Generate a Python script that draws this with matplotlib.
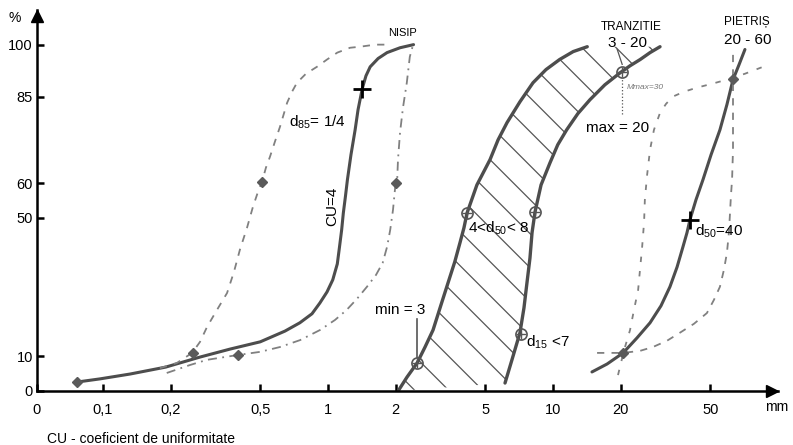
import numpy as np
import matplotlib
matplotlib.use('Agg')
import matplotlib.pyplot as plt

plt.rcParams['font.family'] = ['Liberation Sans', 'DejaVu Sans']

# axis ticks
x_ticks = [0.1, 0.2, 0.5, 1, 2, 5, 10, 20, 50]
x_labels = ['0,1', '0,2', '0,5', '1', '2', '5', '10', '20', '50']
y_ticks = [0, 10, 50, 60, 85, 100]
y_labels = ['0', '10', '50', '60', '85', '100']

# NISIP - main curve (mm, %)
nisip_x = [0.077, 0.097, 0.132, 0.19, 0.27, 0.367, 0.50, 0.644, 0.75, 0.849, 0.92, 0.99, 1.05, 1.10, 1.125,
           1.15, 1.17, 1.195, 1.22, 1.265, 1.32, 1.36, 1.42, 1.475, 1.54, 1.67, 1.83, 2.09, 2.4]
nisip_y = [2.6, 3.5, 4.9, 6.9, 9.8, 12.1, 14.2, 17.3, 19.7, 22.3, 25.4, 28.6, 32.1, 36.7, 41.6,
           46.5, 51.4, 56.1, 61.0, 68.2, 75.4, 81.2, 87.3, 91.0, 93.6, 96.0, 97.7, 99.1, 100]
# NISIP - fine envelope (dashed)
nisip_fine_x = [0.179, 0.213, 0.249, 0.270, 0.29, 0.321, 0.356, 0.382, 0.406, 0.4365, 0.464, 0.4885, 0.509, 0.530,
                0.552, 0.581, 0.612, 0.658, 0.692, 0.728, 0.798, 0.893, 0.99, 1.10, 1.253, 1.39, 1.62, 1.83]
nisip_fine_y = [6.6, 8.1, 11.0, 14.2, 18.5, 23.4, 28.3, 34.4, 40.8, 47.1, 53.2, 57.5, 60.4, 64.5,
                67.6, 72.0, 76.3, 83.2, 86.4, 89.0, 91.6, 93.6, 95.7, 97.7, 99.1, 99.4, 100, 100]
# NISIP - coarse envelope (dash-dot)
nisip_coarse_x = [0.192, 0.2435, 0.29, 0.398, 0.499, 0.612, 0.752, 0.921, 1.074, 1.21, 1.345, 1.49, 1.634,
                  1.75, 1.83, 1.89, 1.945, 1.99, 2.03, 2.047, 2.09, 2.154, 2.24, 2.31, 2.39]
nisip_coarse_y = [5.2, 7.5, 9.0, 10.4, 11.3, 12.7, 14.7, 17.6, 20.5, 23.4, 26.6, 30.1, 33.5,
                  37.0, 41.6, 46.5, 52.3, 59.0, 61.0, 66.8, 74.6, 81.8, 89.0, 96.5, 100]

# TRANZITIE band boundaries
tranz_left_x = [2.05, 2.244, 2.49, 2.70, 2.93, 3.18, 3.45, 3.66, 3.86, 4.02, 4.15, 4.59, 5.25, 5.70, 6.25,
                7.13, 8.15, 9.31, 10.7, 12.3, 14.2]
tranz_left_y = [0, 4.0, 8.1, 12.7, 17.6, 24.9, 32.1, 37.3, 42.8, 47.1, 51.4, 59.5, 66.8, 72.5, 77.5,
                83.5, 89.0, 92.8, 95.7, 98.0, 99.4]
tranz_right_x = [6.12, 6.57, 7.13, 7.43, 7.66, 7.90, 8.07, 8.32, 8.85, 9.70, 10.5, 11.5, 12.9, 14.6, 17.0,
                 19.9, 22.0, 24.4, 27.0, 29.9]
tranz_right_y = [2.3, 9.0, 16.8, 24.0, 31.2, 38.4, 45.7, 51.7, 59.5, 65.9, 71.1, 75.4, 80.1, 84.1, 88.4,
                 91.9, 93.9, 95.7, 97.7, 99.4]

# PIETRIS - main curve
pietris_x = [14.9, 17.4, 20.5, 23.6, 27.0, 30.2, 33.1, 35.6, 37.8, 39.4, 40.6, 43.2, 46.4, 50.4, 55.2,
             59.3, 63.1, 67.1, 71.3]
pietris_y = [5.5, 7.8, 11.0, 15.3, 19.7, 24.6, 30.1, 35.8, 41.6, 45.7, 49.4, 55.2, 61.0, 68.2, 75.4,
             82.7, 89.9, 94.2, 98.6]
# PIETRIS - envelopes
pietris_fine_x = [19.45, 20.7, 22.0, 22.9, 23.9, 24.4, 24.9, 25.4, 25.6, 26.2, 27.0, 28.1, 29.9, 31.8,
                  34.1, 38.2, 43.7, 50.9, 59.3, 71.3, 85.8]
pietris_fine_y = [4.6, 11.8, 17.6, 23.4, 29.2, 35.5, 41.6, 48.8, 55.2, 62.4, 69.7, 75.4, 80.3, 82.9,
                  85.0, 86.4, 87.6, 88.7, 89.9, 91.6, 93.6]
pietris_coarse_x = [15.7, 20.5, 24.4, 27.8, 32.1, 36.6, 42.3, 48.3, 51.9, 55.2, 57.5, 59.3, 60.5, 61.2,
                    61.8, 62.5, 63.1, 63.1, 63.1, 63.1]
pietris_coarse_y = [11.0, 11.0, 11.6, 12.7, 14.5, 16.8, 19.4, 22.5, 26.3, 30.1, 35.0, 39.9, 45.7, 51.4,
                    56.6, 61.0, 69.7, 80.3, 89.9, 98.6]

# marked points
diamond_x = [0.077, 0.25, 0.51, 0.40, 2.0, 20.5, 63.0]
diamond_y = [2.6, 11.0, 60.4, 10.4, 60.0, 11.0, 90.0]
cross_x = [1.42, 40.6]
cross_y = [87.3, 49.4]
circle_x = [2.49, 4.15, 8.3, 7.2, 20.3]
circle_y = [8.1, 51.4, 51.7, 16.5, 92.2]

fig = plt.figure(figsize=(7.93, 4.45), dpi=100)
ax = fig.add_axes([37 / 793, 54 / 445, 741 / 793, 381 / 445])
ax.set_xscale('log')
x_min = 0.0509
ax.set_xlim(x_min, 100)
ax.set_ylim(0, 110)

solid = '#4d4d4d'
dash_c = '#808080'
line_kw = dict(solid_joinstyle='round', solid_capstyle='round')

# NISIP curves
ax.plot(nisip_x, nisip_y, color=solid, lw=2.2, **line_kw)
ax.plot(nisip_fine_x, nisip_fine_y, color=dash_c, lw=1.3, ls=(0, (4, 4)))
ax.plot(nisip_coarse_x, nisip_coarse_y, color=dash_c, lw=1.3, ls=(0, (5, 3, 1, 3)))

# TRANZITIE band with hatching
band_x = np.concatenate([tranz_left_x, tranz_right_x[::-1]])
band_y = np.concatenate([tranz_left_y, tranz_right_y[::-1]])
band = ax.fill(band_x, band_y, facecolor='none', edgecolor='none')[0]
drop = 381 / 741
for u in np.arange(-0.6, 1.0, 34 / 741):
    ln, = ax.plot([u, u + drop], [1, 0], transform=ax.transAxes, color='#555555', lw=0.9)
    ln.set_clip_path(band)
ax.plot(tranz_left_x, tranz_left_y, color=solid, lw=2.4, **line_kw)
ax.plot(tranz_right_x, tranz_right_y, color=solid, lw=2.4, **line_kw)

# PIETRIS curves
ax.plot(pietris_x, pietris_y, color=solid, lw=2.2, **line_kw)
ax.plot(pietris_fine_x, pietris_fine_y, color=dash_c, lw=1.3, ls=(0, (3, 5)))
ax.plot(pietris_coarse_x, pietris_coarse_y, color=dash_c, lw=1.3, ls=(0, (4, 4)))

# markers
ax.plot(diamond_x, diamond_y, 'D', color='#5a5a5a', ms=5.5, ls='none')
ax.plot(cross_x, cross_y, '+', color='black', ms=13, mew=2, ls='none')
ax.plot(circle_x, circle_y, 'o', mfc='none', mec='#555555', ms=8, mew=1.2, ls='none')
ax.plot(circle_x, circle_y, '+', color='#555555', ms=7, mew=1, ls='none')

# annotation pointers
ax.plot([2.49, 2.49], [20.8, 9.8], color='#555555', lw=1.2)
ax.plot([20.3, 20.3], [80.0, 90.3], color='#555555', lw=0.9, ls=':')
ax.plot([19.3, 20.3], [98.6, 94.3], color='#555555', lw=0.9)

# text labels
ax.text(2.15, 103.5, 'NISIP', fontsize=8, ha='center', va='center')
ax.text(22.2, 105.2, 'TRANZITIE', fontsize=8.5, ha='center', va='center')
ax.text(21.5, 100.6, '3 - 20', fontsize=11, ha='center', va='center')
ax.text(72.8, 106.4, 'PIETRIȘ', fontsize=8.5, ha='center', va='center')
ax.text(73.6, 101.4, '20 - 60', fontsize=11, ha='center', va='center')
ax.text(0.671, 77.7, r'$\mathregular{d_{85}}$= 1/4', fontsize=11, ha='left', va='center')
ax.text(1.04, 53.2, 'CU=4', fontsize=11, rotation=90, ha='center', va='center')
ax.text(4.2, 47.1, r'4<$\mathregular{d_{50}}$< 8', fontsize=11, ha='left', va='center')
ax.text(2.09, 23.4, 'min = 3', fontsize=11, ha='center', va='center')
ax.text(7.6, 14.2, r'$\mathregular{d_{15}}$ <7', fontsize=11, ha='left', va='center')
ax.text(19.4, 76.0, 'max = 20', fontsize=11, ha='center', va='center')
ax.text(42.8, 46.0, r'$\mathregular{d_{50}}$=40', fontsize=11, ha='left', va='center')
ax.text(21.3, 87.6, 'Mmax=30', fontsize=6, color='#777777', ha='left', va='center', style='italic')

# axes styling
for side in ['top', 'right']:
    ax.spines[side].set_visible(False)
for side in ['left', 'bottom']:
    ax.spines[side].set_linewidth(1.8)
    ax.spines[side].set_color('black')
ax.set_xticks([x_min] + x_ticks)
ax.set_xticklabels(['0'] + x_labels)
ax.xaxis.set_minor_locator(matplotlib.ticker.NullLocator())
ax.set_yticks(y_ticks)
ax.set_yticklabels(y_labels)
ax.tick_params(axis='x', direction='in', length=5, width=1.8, pad=9, labelsize=10.5)
ax.tick_params(axis='y', direction='in', length=5, width=1.8, pad=3, labelsize=10.5)

# arrow heads
ax.plot([1 - 6 / 741], [0], marker='>', ms=9, color='black', transform=ax.transAxes, clip_on=False)
ax.plot([0], [1 - 6 / 381], marker='^', ms=9, color='black', transform=ax.transAxes, clip_on=False)

fig.text(15 / 793, 1 - 18 / 445, '%', fontsize=10, ha='center', va='center')
fig.text(777 / 793, 1 - 407 / 445, 'mm', fontsize=10, ha='center', va='center')
fig.text(47 / 793, 1 - 439 / 445, 'CU - coeficient de uniformitate', fontsize=10, ha='left', va='center')

fig.savefig('out.png', dpi=100)
